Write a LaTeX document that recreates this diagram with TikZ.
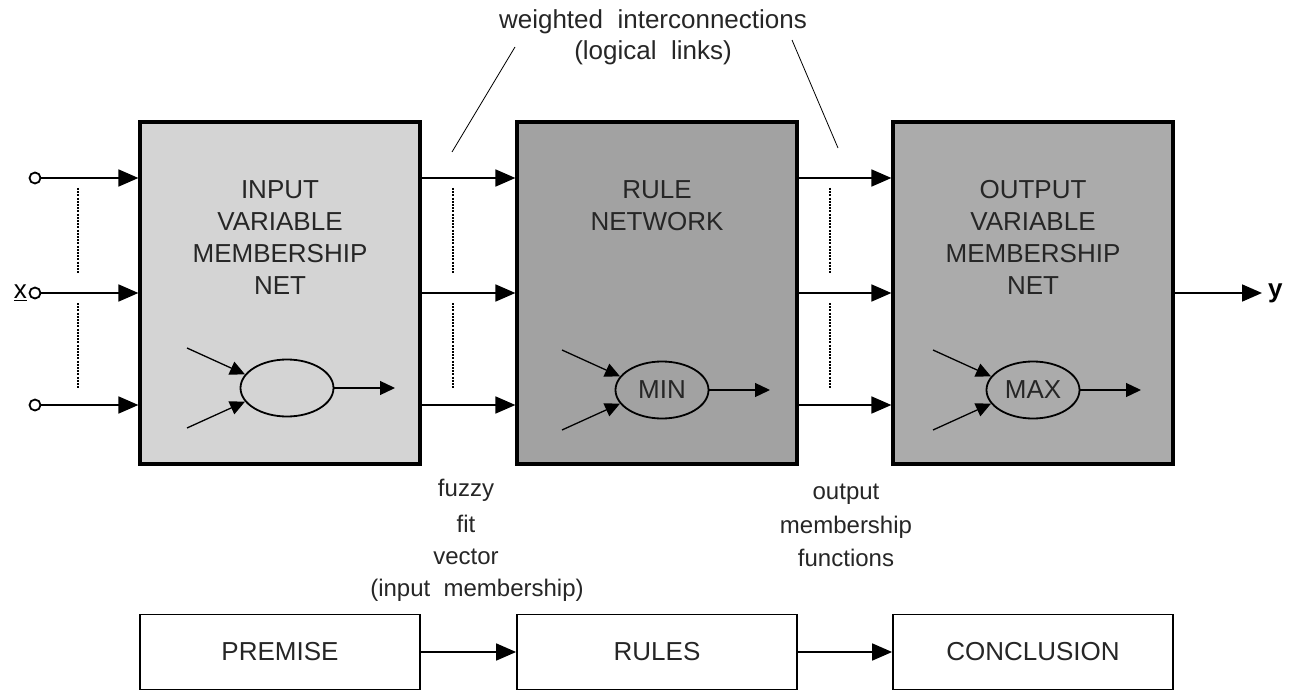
\documentclass[tikz,border=0pt]{standalone}
\usepackage{fontspec}
\setmainfont{Liberation Sans}
\usetikzlibrary{arrows.meta,shapes.geometric}

\definecolor{shadeA}{HTML}{D4D4D4}
\definecolor{shadeB}{HTML}{A2A2A2}
\definecolor{shadeC}{HTML}{ABABAB}

\begin{document}
\begin{tikzpicture}[x=1pt,y=-1pt,
  font=\fontsize{26}{32}\selectfont,
  netbox/.style={draw, line width=3.2pt, minimum width=280pt, minimum height=342pt, inner sep=0pt},
  stagebox/.style={draw, line width=1.8pt, minimum width=280pt, minimum height=75pt, inner sep=0pt, text=black!85},
  boxtext/.style={align=center, anchor=north, text=black!85},
  neuron/.style={ellipse, draw, line width=1.8pt, minimum width=93pt, minimum height=57pt, inner sep=0pt, text=black!85},
  port/.style={circle, draw, line width=1.8pt, minimum size=11pt, inner sep=0pt},
  arr/.style={line width=1.8pt, -{Triangle[length=20pt,width=17pt]}},
  smallarr/.style={line width=1.3pt, -{Triangle[length=15pt,width=14pt]}},
  guide/.style={line width=1.4pt, dash pattern=on 2pt off 1.2pt},
  leader/.style={line width=0.8pt},
  note/.style={align=center, font=\fontsize{24}{33}\selectfont, text=black!85}]

\useasboundingbox (0,0) rectangle (1298,695);

% --- the three network blocks ---
\node[netbox, fill=shadeA] (net1) at (280,293) {};
\node[netbox, fill=shadeB] (net2) at (657,293) {};
\node[netbox, fill=shadeC] (net3) at (1033,293) {};

\node[boxtext] (t1) at (280,177) {INPUT\\VARIABLE\\MEMBERSHIP\\NET};
\node[boxtext] (t2) at (657,177) {RULE\\NETWORK};
\node[boxtext] (t3) at (1033,177) {OUTPUT\\VARIABLE\\MEMBERSHIP\\NET};

% --- input ports ---
\node[port] (in1) at (35,178) {};
\node[port] (in2) at (35,293) {};
\node[port] (in3) at (35,405) {};
\node[anchor=east, inner sep=1pt] (xlab) at (28,293) {\underline{x}};

\coordinate (r1) at (0,178);
\coordinate (r2) at (0,293);
\coordinate (r3) at (0,405);

\foreach \i in {1,2,3} {
  \draw[arr] (in\i) -- (in\i -| net1.west);
  \draw[arr] (r\i -| net1.east) -- (r\i -| net2.west);
  \draw[arr] (r\i -| net2.east) -- (r\i -| net3.west);
}

% --- vertical ellipsis marks between the parallel lines ---
\foreach \xx in {78,453,830} {
  \draw[guide] (\xx,188) -- (\xx,273);
  \draw[guide] (\xx,303) -- (\xx,388);
}

% --- output ---
\coordinate (yend) at (1262,293);
\draw[arr] (r2 -| net3.east) -- (yend);
\node[anchor=west, inner sep=1pt] (ylab) at (1267,293) {\textbf{y}};

% --- processing elements inside each block ---
\node[neuron, fill=shadeA] (e1) at (287,388) {};
\node[neuron, fill=shadeB] (e2) at (662,390) {MIN};
\node[neuron, fill=shadeC] (e3) at (1033,390) {MAX};

\foreach \e/\cx/\cy in {e1/287/388, e2/662/390, e3/1033/390} {
  \coordinate (\e a) at (\cx-100,\cy-40);
  \coordinate (\e b) at (\cx-100,\cy+40);
  \coordinate (\e o) at (\cx+108,\cy);
  \draw[smallarr] (\e a) -- (\e.162);
  \draw[smallarr] (\e b) -- (\e.198);
  \draw[smallarr] (\e.east) -- (\e o);
}

% --- annotations ---
\node[text=black!85] (w1) at (653,22) {weighted\ \ interconnections};
\node[text=black!85] (w2) at (653,53) {(logical\ \ links)};
\coordinate (la) at (515,47);
\coordinate (lb) at (452,152);
\coordinate (lc) at (792,40);
\coordinate (ld) at (838,148);
\draw[leader] (la) -- (lb);
\draw[leader] (lc) -- (ld);

\node[note] (n1) at (466,490) {fuzzy};
\node[note] (n2) at (466,524) {fit};
\node[note] (n3) at (466,557) {vector};
\node[note] (n4) at (477,590) {(input\ \ membership)};

\node[note] (m1) at (846,494) {output};
\node[note] (m2) at (846,527) {membership};
\node[note] (m3) at (846,558) {functions};

% --- stage summary row ---
\node[stagebox] (premise) at (280,652) {PREMISE};
\node[stagebox] (rules) at (657,652) {RULES};
\node[stagebox] (concl) at (1033,652) {CONCLUSION};
\draw[arr] (premise) -- (rules);
\draw[arr] (rules) -- (concl);

\end{tikzpicture}
\end{document}
